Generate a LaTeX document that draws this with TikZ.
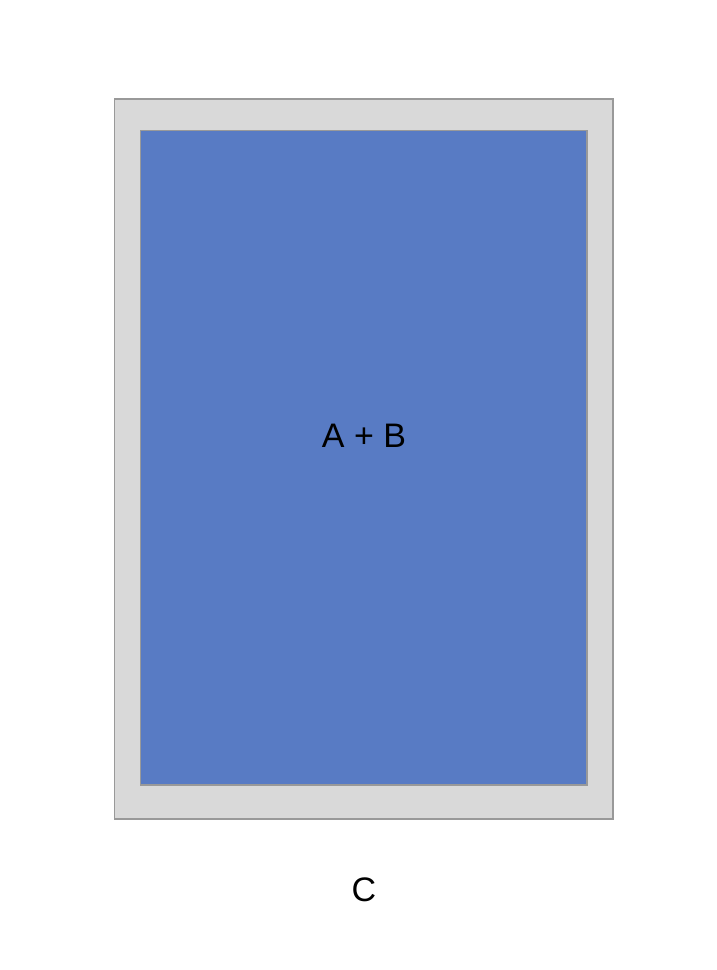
\documentclass[tikz,border=0pt]{standalone}
\usepackage{fontspec}
\setmainfont{Liberation Sans}
\definecolor{boxgray}{HTML}{D9D9D9}
\definecolor{edgegray}{HTML}{999999}
\definecolor{boxblue}{HTML}{587BC4}
\begin{document}
\begin{tikzpicture}[x=1pt,y=-1pt,
  outerbox/.style={draw=edgegray,fill=boxgray,line width=1.5pt},
  innerbox/.style={draw=edgegray,fill=boxblue,line width=1.5pt},
  lbl/.style={font=\fontsize{34}{40}\selectfont,text=black,inner sep=0pt}]
\useasboundingbox (0,0) rectangle (716,970);
\draw[outerbox] (114.5,99) rectangle (613,819);
\draw[innerbox] (140.5,130.5) rectangle (587,785);
\node[lbl] (ab) at (364,436) {A + B};
\node[lbl] (c) at (364,890) {C};
\end{tikzpicture}
\end{document}
